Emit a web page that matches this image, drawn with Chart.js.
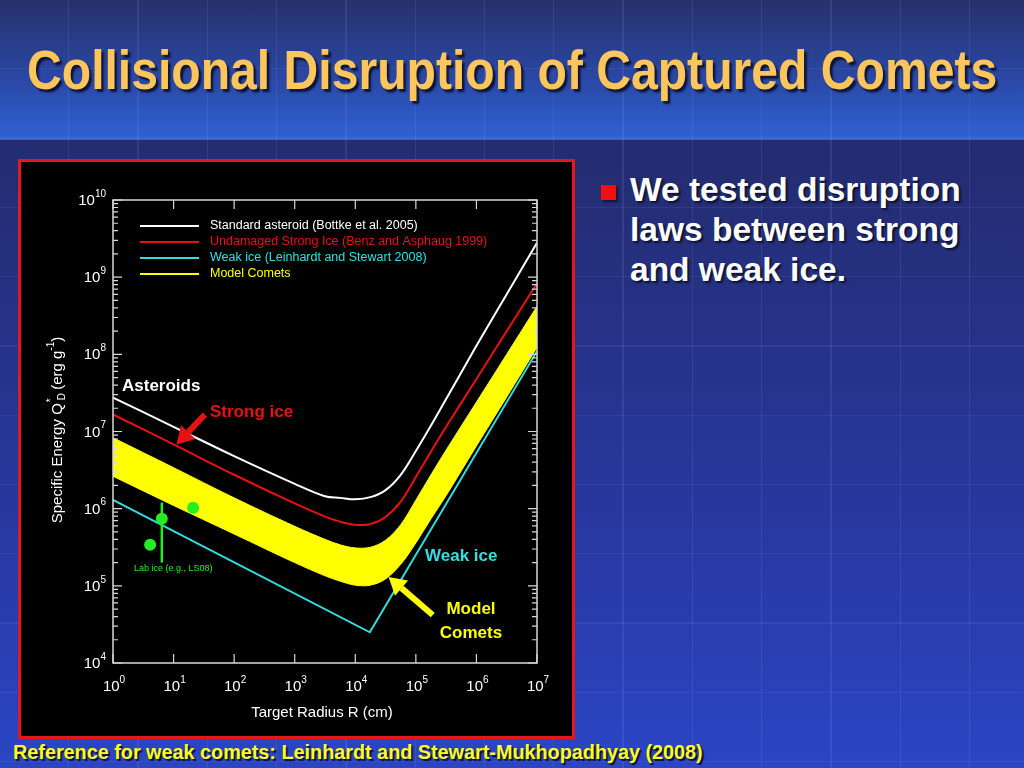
<!DOCTYPE html>
<html>
<head>
<meta charset="utf-8">
<script src="https://cdn.jsdelivr.net/npm/chart.js@4.4.0/dist/chart.umd.min.js"></script>
<style>
html,body{margin:0;padding:0}
body{width:1024px;height:768px;overflow:hidden;position:relative;font-family:"Liberation Sans",Arial,sans-serif;
  background:linear-gradient(#232b6c 0px,#242d72 170px,#2838a0 520px,#2b45c4 768px)}
#top{position:absolute;left:0;top:0;width:1024px;height:140px;background:linear-gradient(#27316a 0%,#2a47a4 55%,#2f62d6 100%)}
#grid{position:absolute;left:0;top:0;width:1024px;height:768px;
  background-image:repeating-linear-gradient(90deg,transparent 0 68px,rgba(140,170,255,0.13) 68px 69.3px,transparent 69.3px 68.27px),
  repeating-linear-gradient(180deg,transparent 0 68px,rgba(140,170,255,0.10) 68px 69.3px,transparent 69.3px 68.27px)}
#title{position:absolute;left:27px;top:38px;white-space:nowrap;transform-origin:0 0;
  font-family:"Liberation Sans Narrow","Liberation Sans",Arial,sans-serif;font-weight:bold;font-size:55px;line-height:64px;
  color:#fcc65c;text-shadow:3px 3px 2px #0f1538}
#box{position:absolute;left:18px;top:159px;width:551px;height:574px;background:#000;border:3px solid #e4161e}
#c{display:block}
#bullet{position:absolute;left:601px;top:185px;width:15px;height:15px;background:#ee1111;box-shadow:2px 2px 2px #10153a}
#btext{position:absolute;left:630px;top:170px;font-weight:bold;font-size:33.5px;line-height:40px;color:#fff;
  text-shadow:2px 2px 2px #0d1030;white-space:nowrap}
#foot{position:absolute;left:13px;top:739px;white-space:nowrap;transform-origin:0 0;
  font-family:"Liberation Sans Narrow","Liberation Sans",Arial,sans-serif;font-weight:bold;font-size:21px;line-height:26px;
  color:#ffff22;text-shadow:2px 2px 1px #0d1030}
</style>
</head>
<body>
<div id="top"></div>
<div id="grid"></div>
<div id="title">Collisional Disruption of Captured Comets</div>
<div id="box"><canvas id="c" width="551" height="574"></canvas></div>
<div id="bullet"></div>
<div id="btext">We tested disruption<br>laws between strong<br>and weak ice.</div>
<div id="foot">Reference for weak comets: Leinhardt and Stewart-Mukhopadhyay (2008)</div>
<script>
// target radius (cm), shared by the three smooth curves
const radius = [1, 10, 100, 1000, 3162, 5623, 10000, 17783, 31623, 56234, 100000, 177828, 316228, 1000000, 3162278, 10000000]
// Q*D in erg/g
const asteroid = [2.75e7, 1.15e7, 4.8e6, 2.1e6, 1.45e6, 1.38e6, 1.32e6, 1.41e6, 1.74e6, 2.75e6, 5.6e6, 1.2e7, 2.63e7, 1.29e8, 6.0e8, 2.8e9]
const strongIce = [1.66e7, 6.8e6, 2.75e6, 1.17e6, 7.9e5, 6.8e5, 6.2e5, 6.3e5, 7.8e5, 1.23e6, 2.57e6, 5.5e6, 1.15e7, 4.8e7, 2.0e8, 8.3e8]
const cometHigh = [8.3e6, 3.4e6, 1.38e6, 5.9e5, 4.0e5, 3.4e5, 3.1e5, 3.16e5, 3.9e5, 6.2e5, 1.29e6, 2.75e6, 5.75e6, 2.4e7, 1.0e8, 4.2e8]
const cometLow = [2.63e6, 1.1e6, 4.7e5, 2.0e5, 1.35e5, 1.15e5, 1.02e5, 1.02e5, 1.23e5, 1.9e5, 3.6e5, 7.4e5, 1.48e6, 6.5e6, 2.8e7, 1.23e8]
// weak ice is a broken power law
const weakR = [1, 17378, 10000000]
const weakQ = [1.3e6, 2.5e4, 1.1e8]
// lab ice measurements
const labR = [4.1, 6.4, 21]
const labQ = [3.4e5, 7.4e5, 1.03e6]
const labLo = [null, 2.0e5, null]
const labHi = [null, 1.2e6, null]
// axis decades
const xDecades = [0, 1, 2, 3, 4, 5, 6, 7]
const yDecades = [4, 5, 6, 7, 8, 9, 10]

const col = {white: '#ffffff', red: '#e81212', cyan: '#30e0e0', yellow: '#ffff00', green: '#22ee22', axis: '#d8d8d8'}

function pts(xs, ys) { return xs.map((x, i) => ({x: x, y: ys[i]})) }

// fit the long slide lines to their width
function fitWidth(id, w) {
  const el = document.getElementById(id)
  el.style.transform = 'scaleX(' + (w / el.scrollWidth) + ')'
}
fitWidth('title', 970)
fitWidth('foot', 690)

function pow10(ctx, exp, x, y, align) {
  ctx.font = '15px "Liberation Sans", Arial'
  const wb = ctx.measureText('10').width
  ctx.font = '10px "Liberation Sans", Arial'
  const we = ctx.measureText(String(exp)).width
  let x0 = x
  if (align == 'right') x0 = x - wb - we
  if (align == 'center') x0 = x - (wb + we) / 2
  ctx.textAlign = 'left'
  ctx.textBaseline = 'middle'
  ctx.font = '15px "Liberation Sans", Arial'
  ctx.fillText('10', x0, y)
  ctx.font = '10px "Liberation Sans", Arial'
  ctx.fillText(String(exp), x0 + wb, y - 7)
}

function arrow(ctx, x1, y1, x2, y2, color) {
  const a = Math.atan2(y2 - y1, x2 - x1)
  const hl = 17, hw = 10
  const bx = x2 - hl * Math.cos(a), by = y2 - hl * Math.sin(a)
  ctx.strokeStyle = color
  ctx.fillStyle = color
  ctx.lineWidth = 6
  ctx.beginPath(); ctx.moveTo(x1, y1); ctx.lineTo(bx, by); ctx.stroke()
  ctx.beginPath()
  ctx.moveTo(x2, y2)
  ctx.lineTo(bx + hw * Math.sin(a), by - hw * Math.cos(a))
  ctx.lineTo(bx - hw * Math.sin(a), by + hw * Math.cos(a))
  ctx.closePath(); ctx.fill()
}

// arrows given in data coords: tail then tip
const arrows = [
  {from: [33, 1.66e7], to: [11.2, 6.8e6], color: col.red},
  {from: [1.9e5, 4.2e4], to: [35500, 1.3e5], color: col.yellow}
]

const frame = {
  id: 'frame',
  afterDatasetsDraw(chart) {
    const ctx = chart.ctx, xs = chart.scales.x, ys = chart.scales.y
    // error bar on the lab point
    ctx.save()
    ctx.strokeStyle = col.green
    ctx.lineWidth = 2.5
    labR.forEach((r, i) => {
      if (labLo[i] == null) return
      const px = xs.getPixelForValue(r)
      ctx.beginPath()
      ctx.moveTo(px, ys.getPixelForValue(labLo[i]))
      ctx.lineTo(px, ys.getPixelForValue(labHi[i]))
      ctx.stroke()
    })
    ctx.restore()
  },
  afterDraw(chart) {
    const ctx = chart.ctx, xs = chart.scales.x, ys = chart.scales.y
    const a = chart.chartArea
    ctx.save()
    // frame
    ctx.strokeStyle = col.axis
    ctx.lineWidth = 1.5
    ctx.strokeRect(a.left, a.top, a.right - a.left, a.bottom - a.top)
    ctx.lineWidth = 1.2
    ctx.beginPath()
    xDecades.forEach(d => {
      const px = xs.getPixelForValue(Math.pow(10, d))
      ctx.moveTo(px, a.bottom); ctx.lineTo(px, a.bottom - 9)
      ctx.moveTo(px, a.top); ctx.lineTo(px, a.top + 9)
    })
    yDecades.forEach(d => {
      for (let m = 1; m < 10; m++) {
        if (d == 10 && m > 1) break
        const py = ys.getPixelForValue(m * Math.pow(10, d))
        const len = m == 1 ? 9 : 5
        ctx.moveTo(a.left, py); ctx.lineTo(a.left + len, py)
        ctx.moveTo(a.right, py); ctx.lineTo(a.right - len, py)
      }
    })
    ctx.stroke()
    // tick labels
    ctx.fillStyle = '#ffffff'
    xDecades.forEach(d => pow10(ctx, d, xs.getPixelForValue(Math.pow(10, d)) + 1, a.bottom + 24, 'center'))
    yDecades.forEach(d => pow10(ctx, d, a.left - 7, ys.getPixelForValue(Math.pow(10, d)) + 1, 'right'))
    // axis titles
    ctx.font = '15px "Liberation Sans", Arial'
    ctx.textAlign = 'center'
    ctx.textBaseline = 'middle'
    ctx.fillText('Target Radius R (cm)', (a.left + a.right) / 2 - 3, a.bottom + 50)
    ctx.save()
    ctx.translate(37, 268)
    ctx.rotate(-Math.PI / 2)
    const parts = [['Specific Energy Q', 0, 15], ['*', -7, 10], ['D', 4, 10], [' (erg g', 0, 15], ['-1', -7, 10], [')', 0, 15]]
    let tot = 0
    parts.forEach((p, i) => {
      ctx.font = p[2] + 'px "Liberation Sans", Arial'
      if (i != 1) tot += ctx.measureText(p[0]).width + (i == 2 ? 2 : 0)
    })
    let x = -tot / 2
    ctx.textAlign = 'left'
    parts.forEach((p, i) => {
      ctx.font = p[2] + 'px "Liberation Sans", Arial'
      const w = ctx.measureText(p[0]).width
      if (i == 1) { ctx.fillText(p[0], x + 1, p[1]); return }
      if (i == 2) { ctx.fillText(p[0], x + 3, p[1]); x += w + 2; return }
      ctx.fillText(p[0], x, p[1])
      x += w
    })
    ctx.restore()
    // legend
    const order = [2, 3, 4, 0]
    ctx.font = '12.5px "Liberation Sans", Arial'
    ctx.textAlign = 'left'
    ctx.textBaseline = 'middle'
    order.forEach((di, k) => {
      const ds = chart.data.datasets[di]
      const y = 64 + k * 16
      ctx.strokeStyle = ds.borderColor
      ctx.lineWidth = 2
      ctx.beginPath(); ctx.moveTo(119, y); ctx.lineTo(178, y); ctx.stroke()
      ctx.fillStyle = ds.borderColor
      ctx.fillText(ds.label, 189, y)
    })
    // annotations
    ctx.font = 'bold 17px "Liberation Sans", Arial'
    ctx.fillStyle = col.white
    ctx.fillText('Asteroids', 101, 224)
    ctx.fillStyle = col.red
    ctx.fillText('Strong ice', 189, 250)
    ctx.fillStyle = col.cyan
    ctx.fillText('Weak ice', 404, 394)
    ctx.fillStyle = col.yellow
    ctx.textAlign = 'center'
    ctx.fillText('Model', 450, 447)
    ctx.fillText('Comets', 450, 471)
    ctx.textAlign = 'left'
    ctx.font = '9px "Liberation Sans", Arial'
    ctx.fillStyle = col.green
    ctx.fillText('Lab ice (e.g., LS08)', 113, 407)
    arrows.forEach(ar => arrow(ctx, xs.getPixelForValue(ar.from[0]), ys.getPixelForValue(ar.from[1]),
      xs.getPixelForValue(ar.to[0]), ys.getPixelForValue(ar.to[1]), ar.color))
    ctx.restore()
  }
}

const smooth = {pointRadius: 0, borderWidth: 2, fill: false, tension: 0.35}

new Chart(document.getElementById('c'), {
  type: 'line',
  data: {
    datasets: [
      {...smooth, label: 'Model Comets', data: pts(radius, cometHigh), borderColor: col.yellow, backgroundColor: col.yellow, borderWidth: 1, fill: '+1'},
      {...smooth, label: 'comet low edge', data: pts(radius, cometLow), borderColor: col.yellow, borderWidth: 1},
      {...smooth, label: 'Standard asteroid (Bottke et al. 2005)', data: pts(radius, asteroid), borderColor: col.white},
      {...smooth, label: 'Undamaged Strong Ice (Benz and Asphaug 1999)', data: pts(radius, strongIce), borderColor: col.red},
      {label: 'Weak ice (Leinhardt and Stewart 2008)', data: pts(weakR, weakQ), borderColor: col.cyan, borderWidth: 2, pointRadius: 0, tension: 0, fill: false},
      {label: 'Lab ice', data: pts(labR, labQ), showLine: false, pointRadius: 6, pointBorderWidth: 0,
        pointBackgroundColor: col.green, borderColor: col.green, order: -1}
    ]
  },
  options: {
    responsive: false,
    animation: false,
    layout: {padding: {left: 92, right: 35, top: 38, bottom: 73}},
    plugins: {legend: {display: false}, tooltip: {enabled: false}},
    scales: {
      x: {type: 'logarithmic', min: 1, max: 1e7, display: false},
      y: {type: 'logarithmic', min: 1e4, max: 1e10, display: false}
    }
  },
  plugins: [frame]
})
</script>
</body>
</html>
